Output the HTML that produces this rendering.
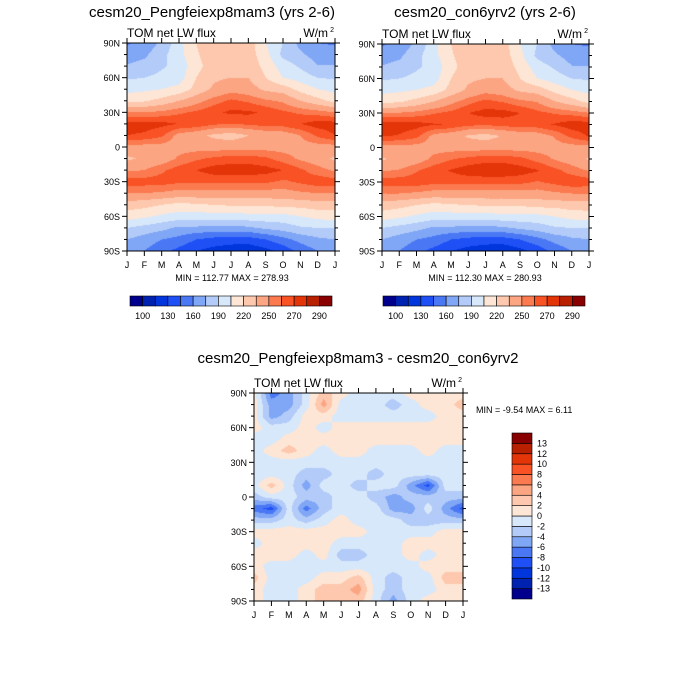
<!DOCTYPE html>
<html><head><meta charset="utf-8">
<style>
body{margin:0;background:#fff;width:700px;height:700px;overflow:hidden;position:relative;font-family:"Liberation Sans",sans-serif}
canvas{position:absolute}
svg{position:absolute;left:0;top:0}
</style></head>
<body>
<canvas id="c1"></canvas>
<canvas id="c2"></canvas>
<canvas id="c3"></canvas>
<svg id="ov" width="700" height="700"></svg>
<script>
const months=["J","F","M","A","M","J","J","A","S","O","N","D","J"];
const latLabels=["90N","60N","30N","0","30S","60S","90S"];
const palette=["#00008c","#0022b0","#0036dc","#1e50f6","#4a78f5","#80a6f6","#b2cbf8","#d8e8fb","#fde6d5","#fdc8ae","#fca583","#fb7a4f","#f85225","#e33508","#b82000","#880000"];
const fluxLevels=[100,115,130,145,160,175,190,205,220,235,250,260,270,280,290];
const fluxLabels=["100","130","160","190","220","250","270","290"];
const diffLevels=[-13,-12,-10,-8,-6,-4,-2,0,2,4,6,8,10,12,13];
const diffLabels=["-13","-12","-10","-8","-6","-4","-2","0","2","4","6","8","10","12","13"];
// each inner array = one month (Jan..Dec,Jan); values from 90N to 90S every 10 degrees
const fluxA=[
[158,168,176,188,200,215,250,275,270,245,232,248,265,250,228,212,190,175,168],
[165,172,180,190,202,218,250,275,268,245,238,250,265,250,225,208,185,168,160],
[178,185,188,194,205,225,253,273,262,245,242,258,265,248,220,202,180,160,150],
[200,200,195,198,210,235,258,270,245,245,252,265,262,245,215,198,172,155,140],
[220,218,215,220,225,245,262,268,240,245,258,270,262,245,218,198,172,145,130],
[232,230,228,232,238,255,268,262,232,244,262,275,262,245,220,198,170,140,124],
[232,230,232,235,245,262,272,260,228,245,265,276,262,245,222,198,170,138,120],
[228,228,230,235,242,258,272,262,235,245,265,276,262,245,222,200,172,138,118],
[205,210,215,220,232,252,268,265,240,245,262,274,262,245,222,200,178,145,125],
[190,186,198,205,228,248,262,265,242,245,255,270,258,245,225,200,182,155,135],
[170,178,188,198,215,235,258,270,250,245,248,262,262,248,225,205,188,165,150],
[160,168,176,190,205,225,255,275,262,245,242,255,266,250,228,210,190,172,160],
[158,168,176,188,200,215,250,275,270,245,232,248,265,250,228,212,190,175,168]];
const fluxB=[
[158,168,176,188,200,215,251,276,271,245,233,249,266,250,228,212,190,175,168],
[165,172,180,190,202,218,251,276,269,245,239,251,266,250,225,208,185,168,160],
[178,185,188,194,205,225,254,274,263,245,243,259,266,248,220,202,180,160,150],
[200,200,195,198,210,235,259,271,246,245,253,266,263,245,215,198,172,155,140],
[220,218,215,220,225,246,263,269,241,245,259,271,263,245,218,198,172,145,130],
[232,230,228,232,238,256,270,263,233,244,263,276,263,245,220,198,170,140,124],
[232,230,232,235,245,263,274,262,229,245,266,278,263,245,222,198,170,138,120],
[228,228,230,235,242,259,274,264,236,245,266,278,263,245,222,200,172,138,118],
[205,210,215,220,232,253,270,266,241,245,263,275,263,245,222,200,178,145,125],
[190,186,198,205,228,249,263,266,243,245,256,271,259,245,225,200,182,155,135],
[170,178,188,198,215,236,259,271,251,245,249,263,263,248,225,205,188,165,150],
[160,168,176,190,205,226,256,276,263,245,243,256,267,250,228,210,190,172,160],
[158,168,176,188,200,215,251,276,271,245,233,249,266,250,228,212,190,175,168]];
const diffC=[
[1,1,1,1,-1,-1,-1,-1,-1,-3,-7,-3,1,-1,1,1,3,1,1],
[-7,-5,-5,-1,-1,1,-1,-1,3,-1,-9,-3,1,1,1,-1,-1,-1,-1],
[-5,-5,-3,-1,1,3,-1,-1,-1,-1,-1,-1,1,1,1,-1,-1,-1,-1],
[-1,-1,1,1,1,1,-1,-3,-5,-3,-7,-3,1,1,-1,-1,-1,1,1],
[3,5,1,-1,1,-1,-1,-3,-1,-3,-3,-1,1,1,1,-1,1,3,3],
[1,-1,-1,1,1,1,-1,-1,-1,-1,-1,1,1,-1,-3,-1,1,3,3],
[-1,-1,-1,1,1,1,-1,-1,-3,-1,-1,-1,1,-1,-3,-1,3,5,3],
[-1,-1,-1,1,1,-1,-1,-3,-1,-3,-1,-1,-1,-1,-1,-1,-1,-1,-1],
[-1,-3,-1,1,1,-1,-1,-1,-1,-5,-5,-1,-1,-1,-1,-1,-3,-3,-5],
[1,-1,-1,1,1,-1,-1,-1,-5,-3,-5,-3,-1,1,1,-1,-1,-1,-1],
[1,1,-1,1,1,1,-1,-1,-9,-3,-1,-3,-1,1,-1,1,-1,-1,1],
[1,1,1,1,1,-1,-1,-1,-1,-3,-5,-3,1,1,1,1,3,1,1],
[1,3,1,1,1,-1,-1,-1,-1,-3,-9,-3,1,1,1,1,3,1,1]];

const NS="http://www.w3.org/2000/svg";
const ov=document.getElementById('ov');
function mk(tag,attrs,parent){const e=document.createElementNS(NS,tag);for(const k in attrs)e.setAttribute(k,attrs[k]);(parent||ov).appendChild(e);return e;}
function txt(x,y,s,size,anchor,parent){const t=mk('text',{x:x,y:y,'font-size':size,'text-anchor':anchor||'middle','font-family':'Liberation Sans, sans-serif',fill:'#000'},parent);t.textContent=s;return t;}
function colorIdx(v,levels){let i=0;while(i<levels.length&&v>=levels[i])i++;return i;}

function drawField(id,grid,levels,x0,y0,w,h){
  const c=document.getElementById(id);c.width=w;c.height=h;c.style.left=x0+'px';c.style.top=y0+'px';
  const ctx=c.getContext('2d');const nc=grid.length-1,nr=grid[0].length-1;
  for(let py=0;py<h;py++){const v=(py+0.5)/h*nr;const r=Math.min(Math.floor(v),nr-1);const fy=v-r;
    for(let px=0;px<w;px++){const u=(px+0.5)/w*nc;const q=Math.min(Math.floor(u),nc-1);const fx=u-q;
      const val=grid[q][r]*(1-fx)*(1-fy)+grid[q+1][r]*fx*(1-fy)+grid[q][r+1]*(1-fx)*fy+grid[q+1][r+1]*fx*fy;
      ctx.fillStyle=palette[colorIdx(val,levels)];ctx.fillRect(px,py,1,1);}}
}
function drawAxes(name,x0,y0,w,h){
  const g=mk('g',{});
  mk('rect',{x:x0,y:y0,width:w,height:h,fill:'none',stroke:'#000','stroke-width':1},g);
  for(let i=0;i<=18;i++){const y=y0+h*i/18;const major=i%3===0;const L=major?5:3;
    mk('line',{x1:x0-L,y1:y,x2:x0,y2:y,stroke:'#000'},g);mk('line',{x1:x0+w,y1:y,x2:x0+w+L,y2:y,stroke:'#000'},g);
    if(major)txt(x0-7,y+3.5,latLabels[i/3],9,'end',g);}
  for(let i=0;i<months.length;i++){const x=x0+w*i/12;
    mk('line',{x1:x,y1:y0+h,x2:x,y2:y0+h+5,stroke:'#000'},g);mk('line',{x1:x,y1:y0-5,x2:x,y2:y0,stroke:'#000'},g);
    txt(x,y0+h+17,months[i],9,'middle',g);}
  txt(x0,y0-6,'TOM net LW flux',12,'start',g);
  txt(x0+w-7,y0-6,'W/m',12,'end',g);txt(x0+w-1,y0-11,'2',7,'end',g);
}
function hColorbar(name,x0,y0,w,h,labels){
  const g=mk('g',{});
  const bw=w/16;for(let i=0;i<16;i++)mk('rect',{x:x0+i*bw,y:y0,width:bw,height:h,fill:palette[i],stroke:'#000','stroke-width':0.6},g);
  labels.forEach((l,k)=>txt(x0+bw*(1+2*k),y0+h+13,l,9,'middle',g));
}
drawField('c1',fluxA,fluxLevels,127,43,208,208);
drawAxes('left-panel',127,43,208,208);
txt(212,17,'cesm20_Pengfeiexp8mam3 (yrs 2-6)',15);
txt(232,281,'MIN = 112.77 MAX = 278.93',9);
hColorbar('left-colorbar',130,296,202,10,fluxLabels);

drawField('c2',fluxB,fluxLevels,382,44,207,207);
drawAxes('right-panel',382,44,207,207);
txt(485,17,'cesm20_con6yrv2 (yrs 2-6)',15);
txt(485,281,'MIN = 112.30 MAX = 280.93',9);
hColorbar('right-colorbar',383,296,202,10,fluxLabels);

drawField('c3',diffC,diffLevels,254,393,209,208);
drawAxes('difference-panel',254,393,209,208);
txt(358,363,'cesm20_Pengfeiexp8mam3 - cesm20_con6yrv2',15);
txt(476,413,'MIN =  -9.54 MAX =   6.11',9,'start');
const vb=mk('g',{});
const bh=166/16;
for(let i=0;i<16;i++)mk('rect',{x:512,y:433+(15-i)*bh,width:20,height:bh,fill:palette[i],stroke:'#000','stroke-width':0.6},vb);
diffLabels.forEach((l,k)=>txt(537,433+(15-k-1)*bh+bh+3,l,9,'start',vb));
</script>
</body></html>
